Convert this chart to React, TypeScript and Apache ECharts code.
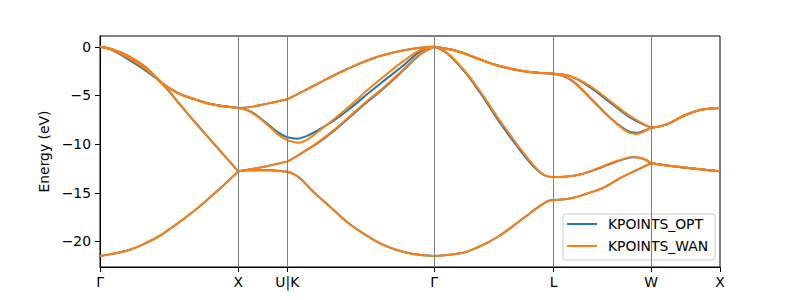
import React, { useEffect, useRef } from 'react';
import * as echarts from 'echarts';

// High-symmetry points along the k-path (k distance) and their labels
const K_TICKS = [0, 138.3, 187.3, 334.2, 453.5, 551, 620];
const K_LABELS = ['Γ', 'X', 'U|K', 'Γ', 'L', 'W', 'X'];
const Y_TICKS = [-20, -15, -10, -5, 0];

// ---- KPOINTS_OPT bands: [k, energy (eV)] ----
const OPT_BAND_1: [number, number][] = [
  [0, -21.5], [28.3, -20.9], [45, -20.2], [61.7, -19.3], [95, -16.8], [121.7, -14.4], [138.3, -12.8],
  [150, -12.68], [170, -12.68], [187.3, -12.85],
  [193.3, -13.07], [200, -13.52], [213.3, -14.89], [230, -16.43], [246.7, -17.97], [263.3, -19.17], [280, -20.2], [296.7, -20.88], [313.3, -21.3], [334.2, -21.5],
  [363.3, -21.16], [380, -20.5], [396.7, -19.6], [413.3, -18.4], [430, -17.1], [446.7, -15.9], [453.5, -15.75],
  [470, -15.6], [486.7, -15.1], [503, -14.5], [520, -13.5], [536, -12.7], [551, -11.97],
  [583.3, -12.4], [620, -12.78],
];
const OPT_BAND_2: [number, number][] = [
  [0, 0], [11.7, -0.3], [28.3, -1.3], [45, -2.4], [61.7, -3.75], [78, -5.7], [95, -7.75], [138.3, -12.8],
  [163, -12.35], [187.3, -11.8],
  [196.7, -11.25], [206.7, -10.6], [218.3, -9.85], [235, -8.55], [251.7, -7.05], [268, -5.6], [285, -4.15], [303, -2.45], [320, -0.8], [334.2, 0],
  [346.7, -0.65], [363.3, -2.4], [380, -4.7], [396.7, -7.3], [413.3, -9.7], [430, -11.9], [443.3, -13.15], [453.5, -13.38],
  [476.7, -13.2], [500, -12.45], [516.7, -11.8], [533.3, -11.35], [543.3, -11.5], [551, -11.97],
  [583.3, -12.4], [620, -12.78],
];
const OPT_BAND_3: [number, number][] = [
  [0, 0], [11.7, -0.25], [28.3, -0.95], [45, -2.05], [61.7, -3.69], [78, -4.75], [95, -5.4], [111.7, -5.9], [138.3, -6.28],
  [150, -6.2], [163, -5.93], [175, -5.68], [187.3, -5.4],
  [213.3, -4.03], [246.7, -2.31], [280, -0.95], [313.3, -0.2], [334.2, 0],
  [356.7, -0.43], [380, -1.29], [396.7, -1.9], [413.3, -2.31], [430, -2.59], [453.5, -2.76],
  [470, -3.02], [490, -4.15], [510, -5.72], [530, -7.25], [551, -8.31],
  [566.7, -7.97], [583.3, -7.11], [600, -6.5], [620, -6.3],
];
const OPT_BAND_4: [number, number][] = [
  [0, 0], [11.7, -0.25], [28.3, -0.95], [45, -2.05], [61.7, -3.69], [78, -4.75], [95, -5.4], [111.7, -5.9], [138.3, -6.28],
  [150, -6.6], [166.7, -7.86], [178, -8.8], [187.3, -9.3],
  [197, -9.45], [207, -9.15], [218.3, -8.55], [235, -7.5], [251.7, -6.2], [268, -4.8], [285, -3.4], [303, -1.95], [320, -0.5], [334.2, 0],
  [356.7, -0.43], [380, -1.29], [396.7, -1.9], [413.3, -2.31], [430, -2.59], [453.5, -2.76],
  [470, -3.34], [490, -5.23], [510, -7.28], [526.7, -8.58], [536.7, -8.83], [543.3, -8.65], [551, -8.31],
  [566.7, -7.97], [583.3, -7.11], [600, -6.5], [620, -6.3],
];

// ---- KPOINTS_WAN bands: [k, energy (eV)] ----
const WAN_BAND_1: [number, number][] = [
  [0, -21.5], [28.3, -20.9], [45, -20.2], [61.7, -19.3], [95, -16.8], [121.7, -14.4], [138.3, -12.8],
  [150, -12.68], [170, -12.68], [187.3, -12.85],
  [193.3, -13.07], [200, -13.52], [213.3, -14.89], [230, -16.43], [246.7, -17.97], [263.3, -19.17], [280, -20.2], [296.7, -20.88], [313.3, -21.3], [334.2, -21.5],
  [363.3, -21.16], [380, -20.5], [396.7, -19.6], [413.3, -18.4], [430, -17.1], [446.7, -15.9], [453.5, -15.75],
  [470, -15.6], [486.7, -15.1], [503, -14.5], [520, -13.5], [536, -12.7], [551, -11.97],
  [583.3, -12.4], [620, -12.78],
];
const WAN_BAND_2: [number, number][] = [
  [0, 0], [11.7, -0.28], [28.3, -1.15], [45, -2.25], [61.7, -3.7], [78, -5.65], [95, -7.75], [138.3, -12.8],
  [163, -12.35], [187.3, -11.8],
  [196.7, -11.25], [206.7, -10.6], [218.3, -9.8], [235, -8.45], [251.7, -6.95], [268, -5.5], [285, -4.05], [303, -2.35], [320, -0.75], [334.2, 0],
  [346.7, -0.6], [363.3, -2.31], [380, -4.54], [396.7, -7.11], [413.3, -9.5], [430, -11.74], [443.3, -13.1], [453.5, -13.38],
  [476.7, -13.2], [500, -12.4], [516.7, -11.74], [533.3, -11.33], [543.3, -11.5], [551, -11.97],
  [583.3, -12.4], [620, -12.78],
];
const WAN_BAND_3: [number, number][] = [
  [0, 0], [11.7, -0.25], [28.3, -0.95], [45, -2.05], [61.7, -3.69], [78, -4.75], [95, -5.4], [111.7, -5.9], [138.3, -6.28],
  [150, -6.2], [163, -5.93], [175, -5.68], [187.3, -5.4],
  [213.3, -4.03], [246.7, -2.31], [280, -0.95], [313.3, -0.2], [334.2, 0],
  [356.7, -0.43], [380, -1.29], [396.7, -1.9], [413.3, -2.31], [430, -2.59], [453.5, -2.76],
  [470, -3.0], [490, -4.03], [510, -5.57], [530, -7.11], [551, -8.31],
  [566.7, -7.97], [583.3, -7.11], [600, -6.5], [620, -6.3],
];
const WAN_BAND_4: [number, number][] = [
  [0, 0], [11.7, -0.25], [28.3, -0.95], [45, -2.05], [61.7, -3.69], [78, -4.75], [95, -5.4], [111.7, -5.9], [138.3, -6.28],
  [150, -6.65], [166.7, -7.95], [178, -9.0], [187.3, -9.6],
  [199, -9.85], [209, -9.4], [218.3, -8.7], [235, -7.35], [251.7, -5.9], [268, -4.4], [285, -2.95], [303, -1.5], [320, -0.35], [334.2, 0],
  [356.7, -0.43], [380, -1.29], [396.7, -1.9], [413.3, -2.31], [430, -2.59], [453.5, -2.76],
  [470, -3.3], [490, -5.2], [510, -7.28], [526.7, -8.7], [535, -8.97], [543.3, -8.75], [551, -8.31],
  [566.7, -7.97], [583.3, -7.11], [600, -6.5], [620, -6.3],
];

const OPT_BANDS = [OPT_BAND_1, OPT_BAND_2, OPT_BAND_3, OPT_BAND_4];
const WAN_BANDS = [WAN_BAND_1, WAN_BAND_2, WAN_BAND_3, WAN_BAND_4];

const FONT = 'DejaVu Sans';
const BLUE = '#1f77b4';
const ORANGE = '#ff7f0e';

function isSymPoint(k: number) {
  return K_TICKS.some((t) => Math.abs(t - k) < 1e-6);
}

// split a band into path segments at the high-symmetry points
function splitSegments(band: [number, number][]) {
  const segs: [number, number][][] = [];
  let cur: [number, number][] = [];
  for (const p of band) {
    cur.push(p);
    if (isSymPoint(p[0]) && cur.length > 1) {
      segs.push(cur);
      cur = [p];
    }
  }
  if (cur.length > 1) segs.push(cur);
  return segs;
}

function bandSeries(name: string, color: string, bands: [number, number][][], z: number) {
  const out: any[] = [];
  bands.forEach((band) => {
    splitSegments(band).forEach((seg) => {
      out.push({
        type: 'line',
        name,
        data: seg,
        color,
        showSymbol: false,
        symbol: 'none',
        smooth: 0.4,
        silent: true,
        z,
        emphasis: { disabled: true },
        lineStyle: { color, width: 2 },
        itemStyle: { color },
      });
    });
  });
  return out;
}

export default function App() {
  const ref = useRef<HTMLDivElement>(null);
  useEffect(() => {
    if (!ref.current) return;
    const chart = echarts.init(ref.current, undefined, { renderer: 'svg' });
    const labelFor = (v: number) => {
      const i = K_TICKS.findIndex((t) => Math.abs(t - v) < 1e-6);
      return i >= 0 ? K_LABELS[i] : '';
    };
    chart.setOption({
      animation: false,
      backgroundColor: '#ffffff',
      textStyle: { fontFamily: FONT },
      grid: {
        left: 100,
        right: 80,
        top: 36,
        bottom: 33,
        show: true,
        borderColor: '#000',
        borderWidth: 1,
        backgroundColor: 'transparent',
      },
      legend: {
        data: ['KPOINTS_OPT', 'KPOINTS_WAN'],
        orient: 'vertical',
        left: 563,
        top: 214,
        icon: 'rect',
        itemWidth: 30,
        itemHeight: 2,
        itemGap: 6,
        backgroundColor: 'rgba(255,255,255,0.8)',
        borderColor: '#cccccc',
        borderWidth: 1,
        borderRadius: 3,
        padding: [2, 7, 6, 4],
        textStyle: { fontFamily: FONT, fontSize: 13.9, color: '#000', lineHeight: 16, padding: [0, 0, 0, 6] },
      },
      xAxis: {
        type: 'value',
        min: 0,
        max: 620,
        axisLine: { show: true, onZero: false, lineStyle: { color: '#000', width: 1 } },
        axisTick: { show: true, customValues: K_TICKS, length: 5, lineStyle: { color: '#000', width: 1 } },
        axisLabel: {
          show: true,
          customValues: K_TICKS,
          formatter: (v: number) => labelFor(v),
          margin: 8,
          color: '#000',
          fontFamily: FONT,
          fontSize: 13.9,
          showMinLabel: true,
          showMaxLabel: true,
        },
        splitLine: { show: false },
      },
      yAxis: {
        type: 'value',
        min: -22.63,
        max: 1.11,
        name: 'Energy (eV)',
        nameLocation: 'middle',
        nameGap: 43,
        nameTextStyle: { fontFamily: FONT, fontSize: 13.9, color: '#000' },
        axisLine: { show: true, onZero: false, lineStyle: { color: '#000', width: 1 } },
        axisTick: { show: true, customValues: Y_TICKS, length: 5, lineStyle: { color: '#000', width: 1 } },
        axisLabel: {
          show: true,
          customValues: Y_TICKS,
          formatter: (v: number) => String(v).replace('-', '\u2212'),
          margin: 9,
          color: '#000',
          fontFamily: FONT,
          fontSize: 13.9,
        },
        splitLine: { show: false },
      },
      series: [
        {
          type: 'line',
          name: 'symmetry-lines',
          data: [],
          silent: true,
          z: 1,
          markLine: {
            silent: true,
            symbol: ['none', 'none'],
            label: { show: false },
            emphasis: { disabled: true },
            lineStyle: { color: '#808080', width: 1, type: 'solid' },
            data: K_TICKS.slice(1, -1).map((k) => ({ xAxis: k })),
          },
        },
        ...bandSeries('KPOINTS_OPT', BLUE, OPT_BANDS, 2),
        ...bandSeries('KPOINTS_WAN', ORANGE, WAN_BANDS, 3),
      ],
    });
    return () => chart.dispose();
  }, []);
  return <div ref={ref} style={{ position: 'absolute', left: 0, top: 0, width: 800, height: 300 }} />;
}
